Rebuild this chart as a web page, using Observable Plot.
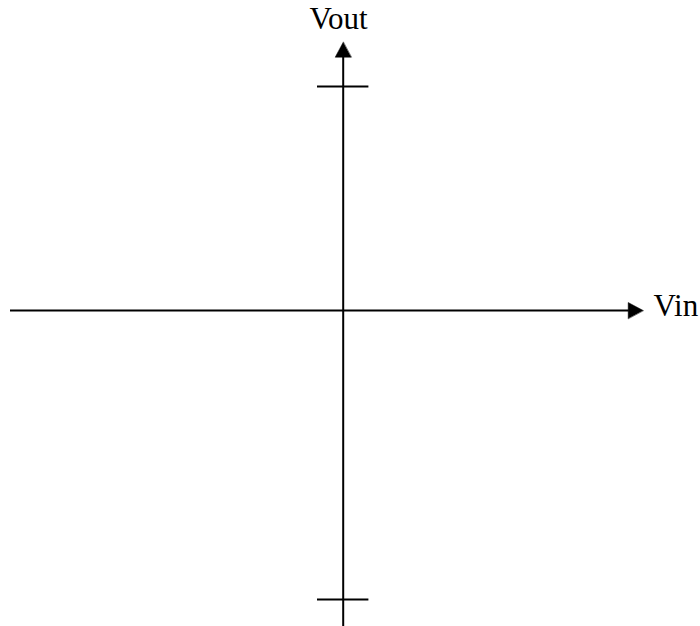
<!DOCTYPE html>
<html>
<head>
<meta charset="utf-8">
<script src="https://cdn.jsdelivr.net/npm/d3@7"></script>
<script src="https://cdn.jsdelivr.net/npm/@observablehq/plot@0.6"></script>
<style>
  html, body { margin: 0; padding: 0; background: #fff; }
  #chart svg { display: block; background: #fff; }
</style>
</head>
<body>
<div id="chart"></div>
<script>
// Axis names
const xLabel = "Vin";
const yLabel = "Vout";
// Axis extents in chart units (origin at the crossing point)
const vinExtent = [-332.7, 300];     // left end .. arrow tip
const voutExtent = [-316, 268.3];    // bottom end .. arrow tip
// Tick marks on the Vout axis
const voutTicks = [224, -289];
const tickHalfWidth = 25.7;
// Arrowhead size
const headLength = 15;
const headHalfWidth = 8;

// Arrowhead polygons built from the axis tips
const heads = [
  {id: "x", x: vinExtent[1], y: 0},
  {id: "x", x: vinExtent[1] - headLength, y: headHalfWidth},
  {id: "x", x: vinExtent[1] - headLength, y: -headHalfWidth},
  {id: "y", x: 0, y: voutExtent[1]},
  {id: "y", x: -headHalfWidth, y: voutExtent[1] - headLength},
  {id: "y", x: headHalfWidth, y: voutExtent[1] - headLength}
];

const xLabelPos = [{text: xLabel, x: vinExtent[1] + 10.3, y: -5.5}];
const yLabelPos = [{text: yLabel, x: -4.7, y: 282}];

const chart = Plot.plot({
  width: 700,
  height: 626,
  margin: 0,
  x: {domain: [-342.7, 357.3], axis: null},
  y: {domain: [-316, 310], axis: null},
  style: {background: "#fff"},
  marks: [
    Plot.ruleY([0], {x1: vinExtent[0], x2: vinExtent[1] - headLength + 1, stroke: "#000", strokeWidth: 2}),
    Plot.ruleX([0], {y1: voutExtent[0], y2: voutExtent[1] - headLength + 1, stroke: "#000", strokeWidth: 2}),
    Plot.ruleY(voutTicks, {x1: -tickHalfWidth, x2: tickHalfWidth, stroke: "#000", strokeWidth: 2}),
    Plot.line(heads, {x: "x", y: "y", z: "id", fill: "#000", stroke: "#000", strokeWidth: 0.5, curve: "linear-closed"}),
    Plot.text(xLabelPos, {
      x: "x", y: "y", text: "text", textAnchor: "start",
      lineAnchor: "bottom", fontSize: 31, fontFamily: "Liberation Serif", fill: "#000"
    }),
    Plot.text(yLabelPos, {
      x: "x", y: "y", text: "text", textAnchor: "middle",
      lineAnchor: "bottom", fontSize: 31, fontFamily: "Liberation Serif", fill: "#000"
    })
  ]
});
document.getElementById("chart").appendChild(chart);
</script>
</body>
</html>
